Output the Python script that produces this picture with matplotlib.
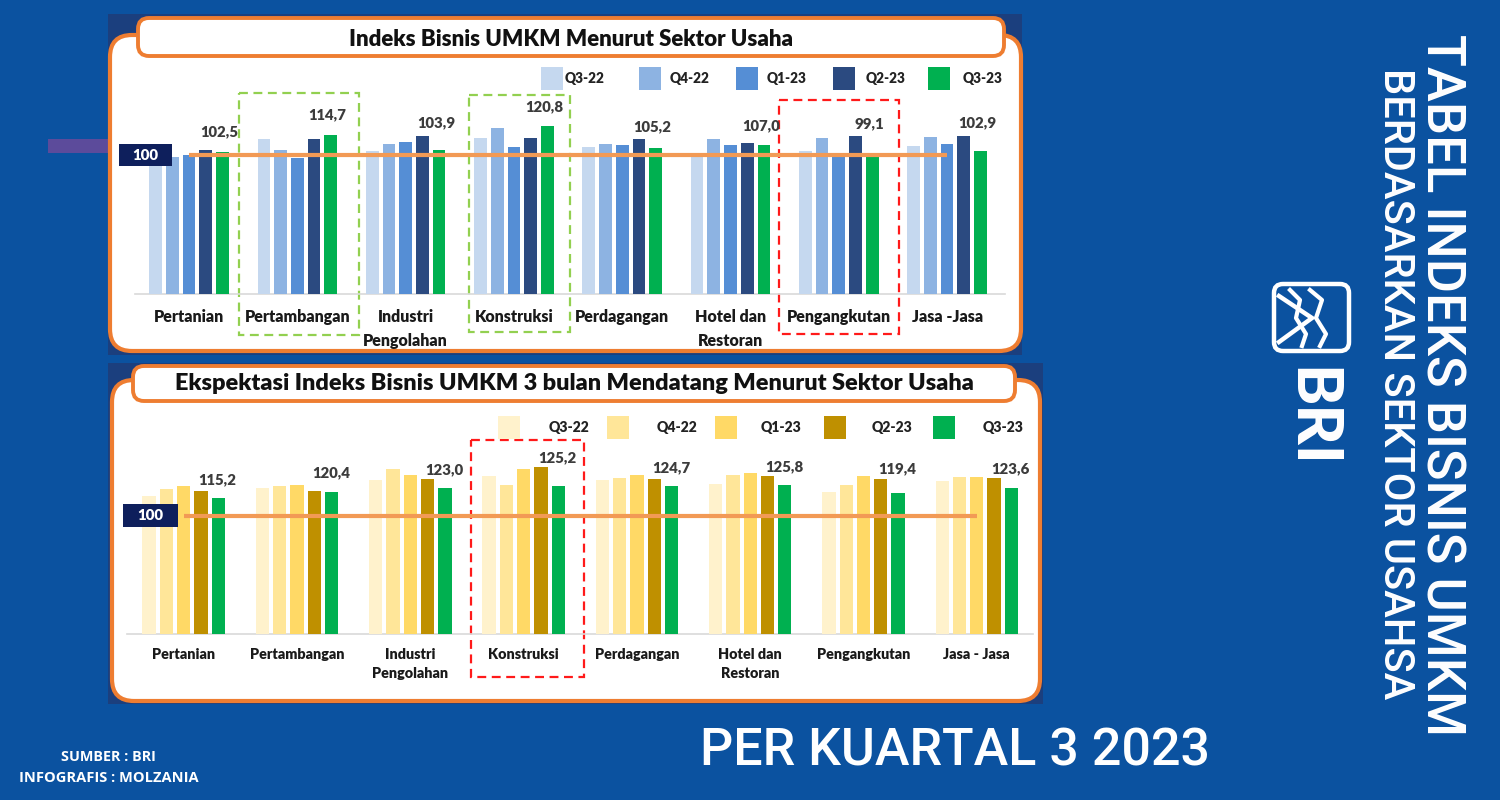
import matplotlib
matplotlib.use("Agg")
import matplotlib.pyplot as plt
from matplotlib.patches import FancyBboxPatch, Rectangle
from matplotlib.transforms import blended_transform_factory, offset_copy

# ---------------- data ----------------
sectors_top = ["Pertanian", "Pertambangan", "Industri\nPengolahan", "Konstruksi",
               "Perdagangan", "Hotel dan\nRestoran", "Pengangkutan", "Jasa -Jasa"]
sectors_bottom = ["Pertanian", "Pertambangan", "Industri\nPengolahan", "Konstruksi",
                  "Perdagangan", "Hotel dan\nRestoran", "Pengangkutan", "Jasa - Jasa"]
quarters = ["Q3-22", "Q4-22", "Q1-23", "Q2-23", "Q3-23"]

ibu_q3_22 = [98.0, 111.3, 102.9, 112.5, 105.5, 100.7, 102.9, 106.2]
ibu_q4_22 = [98.8, 103.4, 107.7, 119.7, 107.7, 111.3, 112.0, 112.9]
ibu_q1_23 = [100.0, 97.6, 109.1, 106.0, 107.4, 107.0, 98.8, 107.7]
ibu_q2_23 = [103.6, 111.3, 113.9, 112.0, 111.3, 108.4, 113.4, 113.9]
ibu_q3_23 = [102.5, 114.7, 103.9, 120.8, 105.2, 107.0, 99.1, 102.9]

eks_q3_22 = [116.9, 123.4, 130.2, 133.6, 130.2, 127.1, 119.8, 129.3]
eks_q4_22 = [122.6, 125.1, 139.2, 126.2, 131.9, 134.1, 125.7, 132.5]
eks_q1_23 = [125.1, 126.0, 134.1, 139.7, 134.1, 135.8, 133.3, 132.8]
eks_q2_23 = [120.6, 121.2, 130.8, 141.4, 130.8, 133.8, 131.3, 131.7]
eks_q3_23 = [115.2, 120.4, 123.0, 125.2, 124.7, 125.8, 119.4, 123.6]

reference_value = 100

# ---------------- style ----------------
BG = "#0B52A0"
DARK = "#1B3F7E"
ORANGE = "#EE7D31"
REFLINE = "#F29A55"
NAVY = "#0E1F5C"
blue_colors = ["#C5D8EF", "#8DB3E2", "#558ED5", "#2B4A80", "#00B050"]
gold_colors = ["#FFF2CC", "#FFE699", "#FFD966", "#BF9000", "#00B050"]

plt.rcParams["font.family"] = ["Lato", "DejaVu Sans"]
HEAVY = "heavy"

fig = plt.figure(figsize=(15, 8), dpi=100)
fig.patch.set_facecolor(BG)
bg = fig.add_axes([0, 0, 1, 1], zorder=0)
bg.set_xlim(0, 1500)
bg.set_ylim(800, 0)
bg.axis("off")

fits = []  # (text, target_px, dimension, [kind, label])


def rbox(x0, y0, x1, y1, r, fc, ec, lw, z, ls="-"):
    p = FancyBboxPatch((x0, y0), x1 - x0, y1 - y0,
                       boxstyle=f"round,pad=0,rounding_size={r}",
                       fc=fc, ec=ec, lw=lw, zorder=z, ls=ls)
    bg.add_patch(p)


# decorative purple bar at left
bg.add_patch(Rectangle((48, 139), 61, 14, fc="#5C4B9B", ec="none", zorder=1))

# panel backgrounds
bg.add_patch(Rectangle((108, 14), 914, 341, fc=DARK, ec="none", zorder=1))
bg.add_patch(Rectangle((108, 363), 935, 341, fc=DARK, ec="none", zorder=1))
rbox(110, 35, 1021, 351, 22, "white", ORANGE, 3.0, 2)
rbox(112, 380, 1040, 701, 22, "white", ORANGE, 3.0, 2)
rbox(138, 18, 1004, 56, 11, "white", ORANGE, 2.8, 3)
rbox(133, 366, 1015, 401, 11, "white", ORANGE, 2.8, 3)

t = bg.text(571, 39, "Indeks Bisnis UMKM Menurut Sektor Usaha", ha="center", va="center",
            fontsize=14, fontweight=HEAVY, color="#111111", zorder=4)
fits.append((t, 445, "w"))
t = bg.text(574, 384, "Ekspektasi Indeks Bisnis UMKM 3 bulan Mendatang Menurut Sektor Usaha",
            ha="center", va="center", fontsize=14, fontweight=HEAVY, color="#111111", zorder=4)
fits.append((t, 797, "w"))

# highlight dashed boxes
for (x0, y0, x1, y1, c) in [(239, 93, 359, 335, "#92D050"), (469, 95, 570, 332, "#92D050"),
                            (779, 100, 899, 334, "#FF1A1A"), (471, 440, 584, 677, "#FF1A1A")]:
    bg.add_patch(Rectangle((x0, y0), x1 - x0, y1 - y0, fc="none", ec=c, lw=1.6,
                           ls=(0, (4, 2.5)), zorder=3))

# legends
leg_top_sq = [541, 639, 736, 833, 928]
leg_top_tx = [565, 670, 767, 866, 963]
for k in range(5):
    bg.add_patch(Rectangle((leg_top_sq[k], 67), 22, 23, fc=blue_colors[k], ec="none", zorder=3))
    t = bg.text(leg_top_tx[k], 78.5, quarters[k], ha="left", va="center", fontsize=10,
                fontweight=HEAVY, color="#222222", zorder=4)
    fits.append((t, 40, "w"))
leg_bot_sq = [498, 607, 715, 824, 933]
leg_bot_tx = [549, 657, 761, 872, 983]
for k in range(5):
    bg.add_patch(Rectangle((leg_bot_sq[k], 416), 22, 23, fc=gold_colors[k], ec="none", zorder=3))
    t = bg.text(leg_bot_tx[k], 428, quarters[k], ha="left", va="center", fontsize=10,
                fontweight=HEAVY, color="#222222", zorder=4)
    fits.append((t, 41, "w"))


# ---------------- bar charts ----------------
def make_chart(rect_px, xlim, ylim, series, colors, cats, step, width,
               val_dx, val_off5, val_off4, cat_dy, cat_ls, base_frac, box_px, cat_target):
    x0, y0, x1, y1 = rect_px
    ax = fig.add_axes([x0 / 1500, 1 - y1 / 800, (x1 - x0) / 1500, (y1 - y0) / 800], zorder=2)
    ax.patch.set_alpha(0)
    ax.set_xlim(*xlim)
    ax.set_ylim(*ylim)
    ax.axis("off")
    n = len(cats)
    xs = list(range(n))
    for k, s in enumerate(series):
        ax.bar([x + (k - 2) * step for x in xs], s, width=width, color=colors[k],
               zorder=2, linewidth=0)
    ax.axhline(0, xmin=base_frac[0], xmax=base_frac[1], color="#D9D9D9", lw=1.2,
               zorder=1, clip_on=False)
    ax.plot([xs[0], xs[-1]], [reference_value, reference_value], color=REFLINE, lw=3.0,
            zorder=3, solid_capstyle="butt")
    # "100" label box
    tr = blended_transform_factory(bg.transData, ax.transData)
    bx0, bx1, bh = box_px
    ppu = (y1 - y0) / (ylim[1] - ylim[0])
    ax.add_patch(Rectangle((bx0, reference_value - bh / 2 / ppu), bx1 - bx0, bh / ppu,
                           transform=tr, fc=NAVY, ec="none", zorder=4, clip_on=False))
    tt = ax.text((bx0 + bx1) / 2, reference_value, str(reference_value), transform=tr,
                 ha="center", va="center", color="white", fontweight=HEAVY, fontsize=10,
                 zorder=5, clip_on=False)
    fits.append((tt, 26, "w"))
    # value labels for latest quarter
    for i in xs:
        v4, v5 = series[3][i], series[4][i]
        ly = max(v5 + val_off5, v4 + val_off4)
        lab = f"{v5:.1f}".replace(".", ",")
        tt = ax.text(i + val_dx, ly, lab, ha="center", va="center", fontweight=HEAVY,
                     color="#3C3C3C", fontsize=11, zorder=5, clip_on=False)
        fits.append((tt, 38, "w", "val"))
    # category labels
    ctr = offset_copy(ax.transData, fig=fig, x=0, y=-cat_dy, units="dots")
    for i, c in enumerate(cats):
        tt = ax.text(i, 0, c, transform=ctr, ha="center", va="top", fontweight=HEAVY,
                     color="#1A1A1A", fontsize=10, linespacing=cat_ls, zorder=5, clip_on=False)
        fits.append((tt, cat_target, "w", "cat", c))
    return ax


top_series = [ibu_q3_22, ibu_q4_22, ibu_q1_23, ibu_q2_23, ibu_q3_23]
bot_series = [eks_q3_22, eks_q4_22, eks_q1_23, eks_q2_23, eks_q3_23]

make_chart((130, 60, 1010, 294), ((130 - 189) / 108.3, (1010 - 189) / 108.3), (0, 234 / 1.39),
           top_series, blue_colors, sectors_top, 16.7 / 108.3, 12.7 / 108.3,
           0.28, 14, 9, 15, 1.65, (5 / 880, 875 / 880), (119, 172, 22), 106)
make_chart((125, 420, 1035, 634), ((125 - 183.7) / 113.3, (1035 - 183.7) / 113.3), (0, 214 / 1.183),
           bot_series, gold_colors, sectors_bottom, 17.3 / 113.3, 13.3 / 113.3,
           0.30, 15.5, 8, 14, 1.55, (2 / 910, 908 / 910), (123, 178, 23), 95)

# ---------------- right side & footer ----------------
t = bg.text(1441, 385, "TABEL INDEKS BISNIS UMKM", rotation=270, ha="center", va="center",
            color="white", fontsize=30, fontweight="medium", family=["Roboto", "DejaVu Sans"], zorder=4)
fits.append((t, 700, "h"))
t = bg.text(1395, 384, "BERDASARKAN SEKTOR USAHSA", rotation=270, ha="center", va="center",
            color="white", fontsize=26, fontweight="medium", family=["Roboto", "DejaVu Sans"], zorder=4)
fits.append((t, 632, "h"))

# BRI logo
rbox(1274, 284, 1349, 351, 9, "none", "white", 3.2, 4)
bg.plot([1279, 1312, 1279], [296, 318, 342], color="white", lw=3.2, zorder=4,
        solid_joinstyle="miter")
bg.plot([1290, 1300, 1296, 1306, 1302], [290, 300, 318, 334, 346], color="white", lw=3.0, zorder=4)
bg.plot([1310, 1322, 1316, 1326, 1320], [290, 300, 318, 334, 346], color="white", lw=3.0, zorder=4)
t = bg.text(1311, 417, "BRI", rotation=270, ha="center", va="center", color="white",
            fontsize=40, fontweight="black", family=["Lato", "DejaVu Sans"], zorder=4)
fits.append((t, 101, "h"))

t = bg.text(955, 751, "PER KUARTAL 3 2023", ha="center", va="center", color="white",
            fontsize=36, fontweight="medium", family=["Roboto", "DejaVu Sans"], zorder=4)
fits.append((t, 510, "w"))

t = bg.text(108, 757, "SUMBER : BRI", ha="center", va="center", color="white",
            fontsize=10, fontweight="bold", family=["Open Sans", "DejaVu Sans"], zorder=4)
fits.append((t, 95, "w"))
t = bg.text(109, 778, "INFOGRAFIS : MOLZANIA", ha="center", va="center", color="white",
            fontsize=10, fontweight="bold", family=["Open Sans", "DejaVu Sans"], zorder=4)
fits.append((t, 178, "w"))

# ---------------- fit text sizes ----------------
fig.canvas.draw()
r = fig.canvas.get_renderer()
val_scale = None
cat_scales = {}
for item in fits:
    txt, target, dim = item[0], item[1], item[2]
    bb = txt.get_window_extent(renderer=r)
    size = bb.width if dim == "w" else bb.height
    if len(item) > 3 and item[3] == "val":
        if val_scale is None:
            val_scale = target / size
        txt.set_fontsize(txt.get_fontsize() * val_scale)
    elif len(item) > 3 and item[3] == "cat":
        if item[4] == "Pertambangan":
            cat_scales[target] = target / size
    else:
        txt.set_fontsize(txt.get_fontsize() * target / size)
for item in fits:
    if len(item) > 3 and item[3] == "cat":
        item[0].set_fontsize(item[0].get_fontsize() * cat_scales[item[1]])

fig.savefig("out.png", dpi=100, facecolor=BG)
